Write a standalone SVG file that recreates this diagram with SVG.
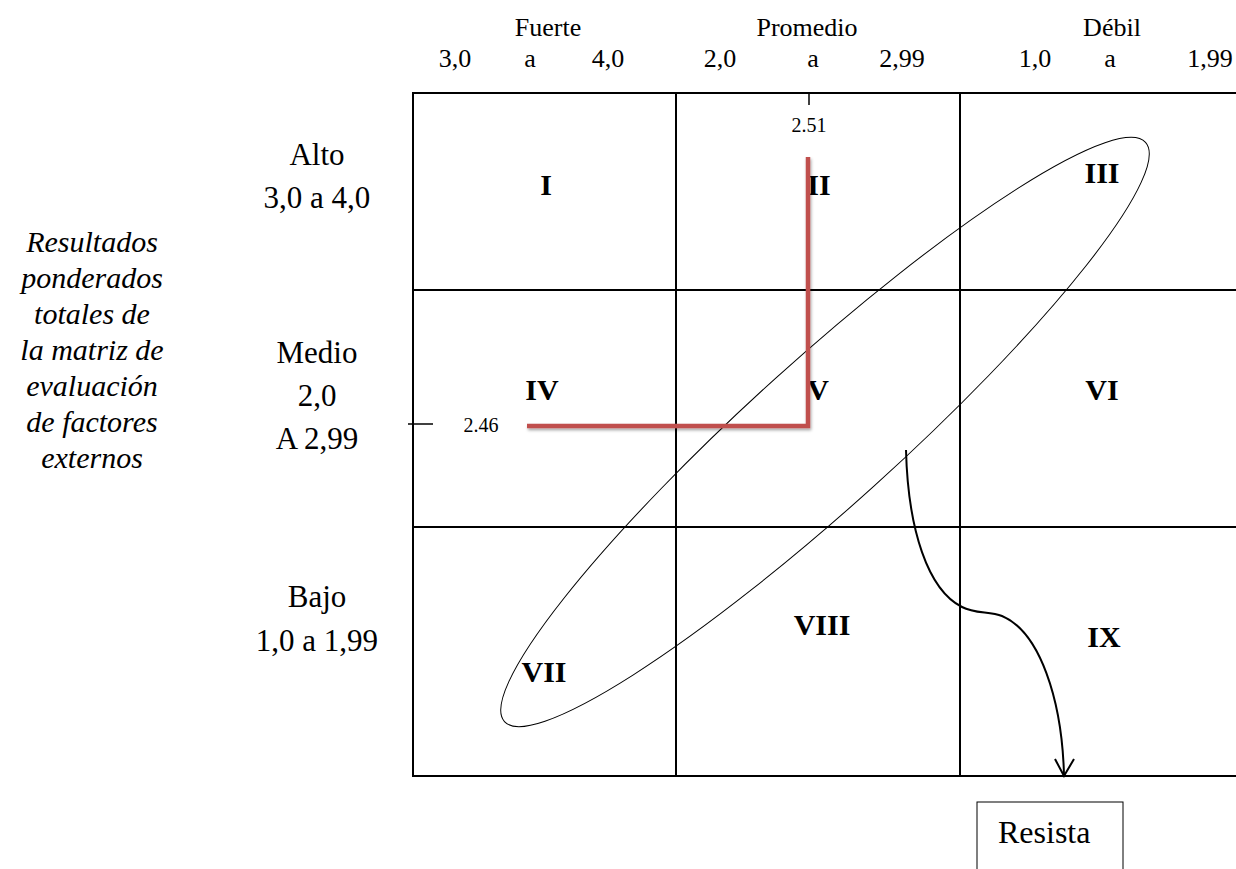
<svg xmlns="http://www.w3.org/2000/svg" width="1236" height="869" viewBox="0 0 1236 869" font-family="'Liberation Serif', 'Times New Roman', serif">
<style>
.h{font-size:26px;text-anchor:middle}
.l{font-size:31px;text-anchor:middle}
.r{font-size:30px;font-weight:bold;text-anchor:middle}
.i{font-size:30px;font-style:italic;text-anchor:middle}
.s{font-size:20px;text-anchor:middle}
.g{stroke:#000;stroke-width:2;fill:none}
</style>
<defs>
<filter id="sh" x="-10%" y="-10%" width="120%" height="120%"><feDropShadow dx="1" dy="2" stdDeviation="1.5" flood-color="#000" flood-opacity="0.35"/></filter>
</defs>
<rect width="1236" height="869" fill="#fff"/>
<g id="header">
<text class="h" x="548" y="36">Fuerte</text>
<text class="h" x="807" y="36">Promedio</text>
<text class="h" x="1112" y="36">Débil</text>
<text class="h" x="455" y="67">3,0</text>
<text class="h" x="530" y="67">a</text>
<text class="h" x="608" y="67">4,0</text>
<text class="h" x="720" y="67">2,0</text>
<text class="h" x="813" y="67">a</text>
<text class="h" x="902" y="67">2,99</text>
<text class="h" x="1035" y="67">1,0</text>
<text class="h" x="1110" y="67">a</text>
<text class="h" x="1210" y="67">1,99</text>
</g>
<g id="axis-label">
<text class="i" x="92" y="252">Resultados</text>
<text class="i" x="92" y="288">ponderados</text>
<text class="i" x="92" y="324">totales de</text>
<text class="i" x="92" y="360">la matriz de</text>
<text class="i" x="92" y="396">evaluación</text>
<text class="i" x="92" y="432">de factores</text>
<text class="i" x="92" y="468">externos</text>
</g>
<g id="row-labels">
<text class="l" x="317" y="165">Alto</text>
<text class="l" x="317" y="208">3,0 a 4,0</text>
<text class="l" x="317" y="363">Medio</text>
<text class="l" x="317" y="406">2,0</text>
<text class="l" x="317" y="449">A 2,99</text>
<text class="l" x="317" y="607">Bajo</text>
<text class="l" x="317" y="651">1,0 a 1,99</text>
</g>
<g id="grid">
<line class="g" x1="413" y1="93" x2="1236" y2="93"/>
<line class="g" x1="413" y1="290" x2="1236" y2="290"/>
<line class="g" x1="413" y1="527" x2="1236" y2="527"/>
<line class="g" x1="413" y1="776" x2="1236" y2="776"/>
<line class="g" x1="413" y1="92" x2="413" y2="777"/>
<line class="g" x1="676" y1="93" x2="676" y2="776"/>
<line class="g" x1="960" y1="93" x2="960" y2="776"/>
</g>
<g id="cells">
<text class="r" x="546" y="195">I</text>
<text class="r" x="819" y="195">II</text>
<text class="r" x="1102" y="183">III</text>
<text class="r" x="542" y="400">IV</text>
<text class="r" x="818" y="400">V</text>
<text class="r" x="1102" y="400">VI</text>
<text class="r" x="544" y="682">VII</text>
<text class="r" x="822" y="635">VIII</text>
<text class="r" x="1104" y="647">IX</text>
</g>
<g id="ellipse">
<ellipse cx="825" cy="432" rx="432" ry="73" transform="rotate(-42.1 825 432)" fill="none" stroke="#000" stroke-width="1"/>
</g>
<g id="markers">
<line x1="809" y1="93" x2="809" y2="105" stroke="#000" stroke-width="1.5"/>
<text class="s" x="809" y="132">2.51</text>
<line x1="408" y1="424" x2="433" y2="424" stroke="#000" stroke-width="1.5"/>
<text class="s" x="481" y="432">2.46</text>
<polyline points="808,157 808,426 527,426" fill="none" stroke="#c0504d" stroke-width="4.5" filter="url(#sh)"/>
</g>
<g id="connectors">
<path d="M906,450 C908,530 928,590 962,607 C975,614 990,611 1002,616 C1040,632 1062,700 1064,775" fill="none" stroke="#000" stroke-width="2"/>
<polyline points="1055,759 1064,776 1074,759" fill="none" stroke="#000" stroke-width="2"/>
</g>
<g id="resista">
<rect x="977" y="802" width="146" height="80" fill="#fff" stroke="#000" stroke-width="1"/>
<text x="998" y="843" font-size="32">Resista</text>
</g>
</svg>
